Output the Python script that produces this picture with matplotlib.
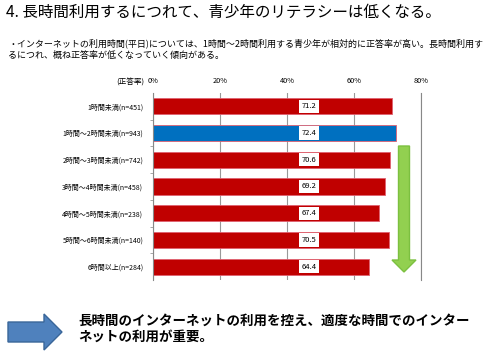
import matplotlib
matplotlib.use("Agg")
import matplotlib.pyplot as plt
from matplotlib.patches import FancyArrow

plt.rcParams['font.family'] = ['Noto Sans CJK JP', 'DejaVu Sans']

# data
categories = ['1時間未満(n=451)', '1時間～2時間未満(n=943)', '2時間～3時間未満(n=742)',
              '3時間～4時間未満(n=458)', '4時間～5時間未満(n=238)', '5時間～6時間未満(n=140)',
              '6時間以上(n=284)']
rates = [71.2, 72.4, 70.6, 69.2, 67.4, 70.5, 64.4]
highlight = 1
ticks = [0, 20, 40, 60, 80]
tick_labels = ['0%', '20%', '40%', '60%', '80%']

title = '4. 長時間利用するにつれて、青少年のリテラシーは低くなる。'
note = ('・インターネットの利用時間(平日)については、1時間～2時間利用する青少年が相対的に正答率が高い。長時間利用す\n'
        'るにつれ、概ね正答率が低くなっていく傾向がある。')
conclusion = '長時間のインターネットの利用を控え、適度な時間でのインター\nネットの利用が重要。'

fig = plt.figure(figsize=(5, 3.52), dpi=100)
W, H = 500, 352

def box(x0, y0, x1, y1):
    return [x0 / W, 1 - y1 / H, (x1 - x0) / W, (y1 - y0) / H]

ax = fig.add_axes(box(153, 93, 421, 280))
y = list(range(len(categories)))
colors = ['#0070C0' if i == highlight else '#C00000' for i in y]
ax.barh(y, rates, height=0.6, color=colors, edgecolor='#E06070', linewidth=0.6, zorder=2)
ax.set_xlim(0, 80)
ax.set_ylim(len(categories) - 0.5, -0.5)
ax.set_xticks(ticks)
ax.set_xticklabels(tick_labels, fontsize=5.3)
ax.xaxis.tick_top()
ax.tick_params(axis='x', length=0, pad=6)
ax.set_yticks(y)
ax.set_yticklabels(categories, fontsize=5.0)
ax.tick_params(axis='y', length=0, pad=7)
ax.set_yticks([i + 0.5 for i in y[:-1]], minor=True)
ax.tick_params(axis='y', which='minor', length=2, color='#999999')
ax.grid(axis='x', color='#999999', linewidth=0.8, zorder=0)
for s in ['top', 'bottom']:
    ax.spines[s].set_visible(False)
ax.spines['left'].set_color('#888888')
ax.spines['right'].set_color('#888888')

for i, v in enumerate(rates):
    ax.text(46.5, i, f'{v:.1f}', ha='center', va='center', fontsize=5.5, zorder=3,
            bbox=dict(boxstyle='square,pad=0.35', fc='white', ec='none'))

fig.text(144 / W, 1 - 83 / H, '(正答率)', ha='right', va='center', fontsize=5.5)

# green trend arrow
fig.patches.append(FancyArrow(404 / W, 1 - 146 / H, 0, -(126 / H), width=11 / W,
                              head_width=24 / W, head_length=12 / H, length_includes_head=True,
                              transform=fig.transFigure, color='#92D050', ec='#7CC040'))

fig.text(6 / W, 1 - 12 / H, title, ha='left', va='center', fontsize=11.2)
fig.text(8 / W, 1 - 49 / H, note, ha='left', va='center', fontsize=6.5, linespacing=1.4)

# blue arrow and conclusion
fig.patches.append(FancyArrow(8 / W, 1 - 332 / H, 54 / W, 0, width=20 / H,
                              head_width=36 / H, head_length=18 / W, length_includes_head=True,
                              transform=fig.transFigure, color='#4F81BD', ec='#3A6699'))
fig.text(78 / W, 1 - 329 / H, conclusion, ha='left', va='center', fontsize=9.7,
         fontweight='bold', linespacing=1.2)

fig.savefig('out.png', dpi=100)
